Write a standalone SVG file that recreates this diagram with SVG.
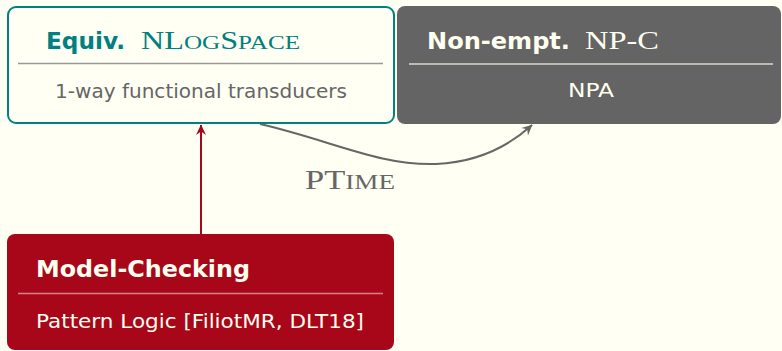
<svg xmlns="http://www.w3.org/2000/svg" width="782" height="351" viewBox="0 0 782 351">
  <style>
    .title { font-family: "DejaVu Sans", "Liberation Sans", sans-serif; font-weight: bold; font-size: 23px; }
    .serif { font-family: "Liberation Serif", "DejaVu Serif", serif; font-size: 25px; }
    .sc { font-size: 19.5px; }
    .body { font-family: "DejaVu Sans", "Liberation Sans", sans-serif; font-size: 20px; }
    .cream { fill: #FFFFF0; }
  </style>
  <defs>
    <marker id="arrRed" viewBox="-11 -6 13 12" markerWidth="13" markerHeight="12" refX="0" refY="0" orient="auto" markerUnits="userSpaceOnUse">
      <path d="M0.5,0 L-10,-5 L-6.5,0 L-10,5 Z" fill="#A8071A"/>
    </marker>
    <marker id="arrGray" viewBox="-11 -6 13 12" markerWidth="13" markerHeight="12" refX="0" refY="0" orient="auto" markerUnits="userSpaceOnUse">
      <path d="M0.5,0 L-10,-5 L-6.5,0 L-10,5 Z" fill="#666666"/>
    </marker>
  </defs>
  <rect x="0" y="0" width="782" height="351" fill="#FFFFF3"/>

  <g id="connectors">
    <line x1="201" y1="234" x2="201" y2="125" stroke="#A8071A" stroke-width="2" marker-end="url(#arrRed)"/>
    <path d="M260,124 C330,140 380,166 436,164 C480,162 510,145 532,125" fill="none" stroke="#666666" stroke-width="2" marker-end="url(#arrGray)"/>
    <text x="305" y="189" class="serif" style="font-size:28px" fill="#666666" textLength="90" lengthAdjust="spacingAndGlyphs">PT<tspan style="font-size:22px">IME</tspan></text>
  </g>

  <g id="equiv">
    <rect x="8" y="7" width="386" height="116" rx="8" ry="8" fill="#FFFFF3" stroke="#008080" stroke-width="2"/>
    <text x="46" y="49" class="title" fill="#008080" textLength="79" lengthAdjust="spacingAndGlyphs">Equiv.</text>
    <text x="141" y="49" class="serif" fill="#008080" textLength="159" lengthAdjust="spacingAndGlyphs">NL<tspan class="sc">OG</tspan>S<tspan class="sc">PACE</tspan></text>
    <line x1="18" y1="63.5" x2="383" y2="63.5" stroke="#999999" stroke-width="1.3"/>
    <text x="201" y="98" class="body" fill="#666666" text-anchor="middle" textLength="292" lengthAdjust="spacingAndGlyphs">1-way functional transducers</text>
  </g>

  <g id="nonempt">
    <rect x="397" y="6" width="384" height="118" rx="8" ry="8" fill="#646464"/>
    <text x="427" y="49" class="title cream" textLength="143" lengthAdjust="spacingAndGlyphs">Non-empt.</text>
    <text x="585" y="49" class="serif cream" textLength="74" lengthAdjust="spacingAndGlyphs">NP-C</text>
    <line x1="409" y1="64" x2="773" y2="64" stroke="#D8D8CC" stroke-width="1.3"/>
    <text x="591" y="97" class="body cream" text-anchor="middle" textLength="46" lengthAdjust="spacingAndGlyphs">NPA</text>
  </g>

  <g id="modelchecking">
    <rect x="7" y="234" width="387" height="116" rx="8" ry="8" fill="#A8071A"/>
    <text x="36" y="277" class="title cream" textLength="214" lengthAdjust="spacingAndGlyphs">Model-Checking</text>
    <line x1="18" y1="293.5" x2="383" y2="293.5" stroke="#D88088" stroke-width="1.3"/>
    <text x="36" y="328" class="body cream" textLength="328" lengthAdjust="spacingAndGlyphs">Pattern Logic [FiliotMR, DLT18]</text>
  </g>
</svg>
